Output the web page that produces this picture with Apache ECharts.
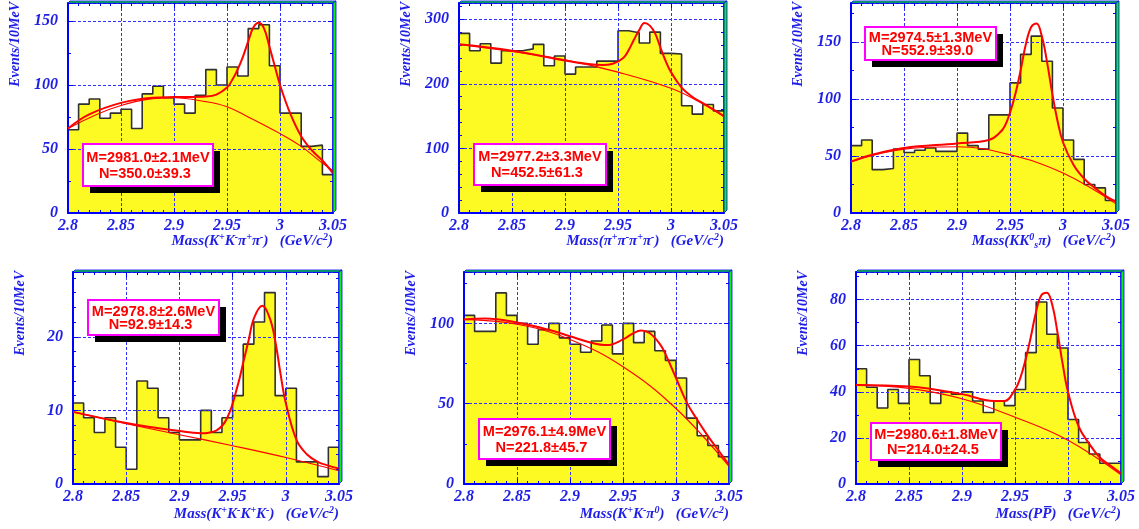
<!DOCTYPE html>
<html>
<head>
<meta charset="utf-8">
<script src="https://cdn.jsdelivr.net/npm/echarts@6/dist/echarts.min.js"></script>
<style>
  html, body { margin: 0; padding: 0; background: #fff; }
  #main { width: 1139px; height: 529px; }
</style>
</head>
<body>
<div id="main"></div>
<script>
// histogram bins: 10 MeV wide, starting at 2.80 GeV
const binStart = 2.8;
const binWidth = 0.01;

// events per bin
const hist1 = [65, 85, 89, 74, 78, 81, 66, 93, 99, 90, 85, 78, 92, 112, 100, 114, 107, 144, 147, 115, 78, 78, 52, 53, 30];
const hist2 = [278, 251, 262, 232, 251, 251, 254, 261, 228, 243, 215, 226, 226, 235, 235, 282, 279, 263, 280, 247, 246, 166, 153, 168, 158];
const hist3 = [59, 64, 38, 39, 56, 53, 55, 57, 54, 54, 70, 59, 56, 86, 86, 114, 139, 155, 133, 92, 64, 47, 25, 22, 11];
const hist4 = [11, 9, 7, 9, 5, 2, 14, 13, 9, 7, 6, 6, 10, 7, 9, 12, 19, 22, 26, 12, 13, 3, 3, 1, 5];
const hist5 = [105, 95, 95, 119, 105, 100, 87, 96, 100, 91, 87, 82, 89, 99, 81, 100, 88, 95, 83, 77, 66, 41, 30, 24, 17];
const hist6 = [50, 42, 33, 41, 35, 54, 47, 35, 40, 39, 40, 36, 31, 36, 34, 41, 57, 79, 65, 59, 28, 18, 13, 9, 9];

// fit curves (signal + background), [mass, events]
const fit1 = [[2.80, 66], [2.82, 77], [2.85, 86], [2.88, 90], [2.90, 90.5], [2.93, 91], [2.94, 92.5], [2.95, 98], [2.955, 104], [2.96, 112], [2.965, 122], [2.97, 134], [2.975, 145], [2.98, 148.5], [2.985, 144], [2.99, 130], [2.995, 115], [3.00, 100], [3.01, 77], [3.02, 60], [3.03, 49], [3.04, 41], [3.05, 31]];
const bkg1 = [[2.80, 66], [2.85, 84], [2.90, 90], [2.93, 87], [2.95, 83], [2.97, 75], [3.00, 62], [3.02, 52], [3.04, 39], [3.05, 33]];
const fit2 = [[2.80, 261], [2.85, 251], [2.90, 236], [2.92, 231], [2.935, 229], [2.945, 231], [2.955, 240], [2.96, 252], [2.965, 268], [2.97, 283], [2.975, 294], [2.98, 290], [2.985, 278], [2.99, 256], [2.995, 235], [3.00, 218], [3.01, 194], [3.02, 180], [3.03, 170], [3.04, 160], [3.05, 150]];
const bkg2 = [[2.80, 261], [2.85, 250], [2.90, 237], [2.95, 218], [3.00, 193], [3.03, 169], [3.05, 149]];
const fit3 = [[2.80, 45], [2.82, 51], [2.85, 57], [2.90, 61], [2.93, 64], [2.94, 70], [2.945, 76], [2.95, 88], [2.955, 104], [2.96, 125], [2.965, 148], [2.97, 163], [2.975, 166], [2.98, 155], [2.985, 132], [2.99, 104], [2.995, 80], [3.00, 62], [3.01, 42], [3.02, 30], [3.03, 22], [3.04, 15], [3.05, 10]];
const bkg3 = [[2.80, 45], [2.85, 56], [2.90, 58], [2.95, 51], [3.00, 35], [3.05, 8]];
const fit4 = [[2.80, 9.8], [2.85, 8.3], [2.90, 7.2], [2.92, 6.9], [2.935, 7.3], [2.945, 9], [2.955, 13.5], [2.96, 16.5], [2.965, 19.5], [2.97, 22.5], [2.978, 24.2], [2.985, 22.5], [2.99, 19.5], [2.995, 15], [3.00, 11], [3.01, 6], [3.02, 4], [3.03, 3], [3.04, 2.5], [3.05, 2.1]];
const bkg4 = [[2.80, 9.8], [2.85, 8.2], [2.90, 6.7], [2.95, 5.2], [3.00, 3.6], [3.05, 1.8]];
const fit5 = [[2.80, 102.5], [2.82, 103], [2.85, 100.5], [2.88, 96], [2.90, 92], [2.92, 88], [2.935, 86.5], [2.95, 90], [2.96, 94], [2.967, 95.5], [2.975, 94], [2.985, 87], [2.99, 81], [3.00, 66], [3.01, 51], [3.02, 40], [3.03, 30], [3.04, 21], [3.05, 12]];
const bkg5 = [[2.80, 102.5], [2.85, 99.5], [2.90, 90], [2.95, 73], [3.00, 47], [3.05, 11]];
const fit6 = [[2.80, 43], [2.85, 42.3], [2.90, 39], [2.93, 36], [2.94, 36], [2.95, 41], [2.955, 46], [2.96, 54], [2.965, 64], [2.97, 75], [2.975, 82], [2.98, 83], [2.985, 78], [2.99, 66], [2.995, 52], [3.00, 40], [3.01, 25], [3.02, 17.5], [3.03, 11.5], [3.04, 8], [3.05, 4.6]];
const bkg6 = [[2.80, 43], [2.85, 41.5], [2.90, 37], [2.95, 29], [3.00, 19], [3.05, 4]];

// fit results
const massText = ['M=2981.0\u00b12.1MeV', 'M=2977.2\u00b13.3MeV', 'M=2974.5\u00b11.3MeV', 'M=2978.8\u00b12.6MeV', 'M=2976.1\u00b14.9MeV', 'M=2980.6\u00b11.8MeV'];
const numText = ['N=350.0\u00b139.3', 'N=452.5\u00b161.3', 'N=552.9\u00b139.0', 'N=92.9\u00b114.3', 'N=221.8\u00b145.7', 'N=214.0\u00b124.5'];

// y axis ranges
const yMax = [164, 325, 184, 28.8, 132, 92];
const yStep = [50, 100, 50, 10, 50, 20];
const yMinor = [2, 5, 2, 5, 2, 2];

// axis titles (rich text)
const xTitles = [
  '{m|Mass(K}{s|+}{m|K}{s|-}{m|\u03c0}{s|+}{m|\u03c0}{s|-}{m|)   (GeV/c}{s|2}{m|)}',
  '{m|Mass(\u03c0}{s|+}{m|\u03c0}{s|-}{m|\u03c0}{s|+}{m|\u03c0}{s|-}{m|)   (GeV/c}{s|2}{m|)}',
  '{m|Mass(KK}{s|0}{b|s}{m|\u03c0)   (GeV/c}{s|2}{m|)}',
  '{m|Mass(K}{s|+}{m|K}{s|-}{m|K}{s|+}{m|K}{s|-}{m|)   (GeV/c}{s|2}{m|)}',
  '{m|Mass(K}{s|+}{m|K}{s|-}{m|\u03c0}{s|0}{m|)   (GeV/c}{s|2}{m|)}',
  '{m|Mass(PP\u0305)   (GeV/c}{s|2}{m|)}'
];

const hists = [hist1, hist2, hist3, hist4, hist5, hist6];
const fits = [fit1, fit2, fit3, fit4, fit5, fit6];
const bkgs = [bkg1, bkg2, bkg3, bkg4, bkg5, bkg6];

// layout (pixels)
const frames = [
  { left: 68, top: 3, width: 265, height: 210 },
  { left: 459, top: 3, width: 265, height: 210 },
  { left: 851, top: 3, width: 265, height: 210 },
  { left: 73, top: 272, width: 266, height: 212 },
  { left: 464, top: 272, width: 265, height: 212 },
  { left: 856, top: 272, width: 265, height: 212 }
];
// fit result boxes: offset from frame corner, size
const boxes = [
  { dx: 15, dy: 141, w: 130, h: 42 },
  { dx: 15, dy: 141, w: 132, h: 41 },
  { dx: 14, dy: 24, w: 131, h: 33 },
  { dx: 15, dy: 28, w: 131, h: 35 },
  { dx: 15, dy: 147, w: 131, h: 40 },
  { dx: 15, dy: 151, w: 130, h: 37 }
];

const BLUE = '#1e1ee6';
const AXIS_BLUE = '#0000ff';
const GRID_BLUE = '#3030ff';
const GREEN = '#11ee11';
const FILL = '#fcfa22';
const labelFont = { color: BLUE, fontFamily: 'Liberation Serif', fontStyle: 'italic', fontWeight: 'bold', fontSize: 16 };

function histPoints(h) {
  const pts = h.map((v, i) => [binStart + i * binWidth, v]);
  pts.push([binStart + h.length * binWidth, h[h.length - 1]]);
  return pts;
}

const grid = [], xAxis = [], yAxis = [], series = [], graphic = [];

frames.forEach((f, i) => {
  grid.push({ left: f.left, top: f.top, width: f.width, height: f.height, containLabel: false, outerBoundsMode: 'none', show: false });
});

// bottom + top x axes
for (let k = 0; k < 2; k++) {
  frames.forEach((f, i) => {
    xAxis.push({
      type: 'value', gridIndex: i, min: 2.8, max: 3.05, interval: 0.05,
      position: k === 0 ? 'bottom' : 'top', z: 3,
      axisLine: { show: true, onZero: false, lineStyle: { color: AXIS_BLUE, width: k === 0 ? 2 : 1.5 } },
      axisTick: { show: true, inside: true, length: 5, lineStyle: { color: AXIS_BLUE, width: 1 } },
      minorTick: { show: true, splitNumber: 5, length: 3, lineStyle: { color: AXIS_BLUE, width: 1 } },
      splitLine: { show: k === 0, lineStyle: { color: GRID_BLUE, width: 1, type: [3, 2] } },
      axisLabel: Object.assign({ show: k === 0, margin: 5, hideOverlap: false }, labelFont)
    });
  });
}
// left + right y axes
for (let k = 0; k < 2; k++) {
  frames.forEach((f, i) => {
    yAxis.push({
      type: 'value', gridIndex: i, min: 0, max: yMax[i], interval: yStep[i],
      position: k === 0 ? 'left' : 'right', z: 3,
      axisLine: { show: true, onZero: false, lineStyle: { color: AXIS_BLUE, width: k === 0 ? 2 : 1.5 } },
      axisTick: { show: true, inside: true, length: 5, lineStyle: { color: AXIS_BLUE, width: 1 } },
      minorTick: { show: true, splitNumber: yMinor[i], length: 3, lineStyle: { color: AXIS_BLUE, width: 1 } },
      splitLine: { show: k === 0, lineStyle: { color: GRID_BLUE, width: 1, type: [3, 2] } },
      axisLabel: Object.assign({ show: k === 0, margin: 10, showMaxLabel: false, hideOverlap: false }, labelFont)
    });
  });
}

frames.forEach((f, i) => {
  series.push({
    type: 'line', xAxisIndex: i, yAxisIndex: i, step: 'end', symbol: 'none', z: 2,
    data: histPoints(hists[i]),
    lineStyle: { color: '#303030', width: 1.6 },
    areaStyle: { color: FILL, opacity: 1 },
    silent: true, animation: false
  });
  series.push({
    type: 'line', xAxisIndex: i, yAxisIndex: i, symbol: 'none', smooth: 0.4, z: 5,
    data: bkgs[i], lineStyle: { color: '#ff0000', width: 1.1 }, silent: true, animation: false
  });
  series.push({
    type: 'line', xAxisIndex: i, yAxisIndex: i, symbol: 'none', smooth: 0.4, z: 6,
    data: fits[i], lineStyle: { color: '#ff0000', width: 2 }, silent: true, animation: false
  });

  const R = f.left + f.width, B = f.top + f.height;
  // 3d frame: green strips on top and right
  graphic.push({
    type: 'polygon', z: 8, silent: true,
    shape: { points: [[f.left, f.top], [f.left + 2, f.top - 2], [R + 3, f.top - 2], [R, f.top]] },
    style: { fill: GREEN, stroke: AXIS_BLUE, lineWidth: 0.8 }
  });
  graphic.push({
    type: 'polygon', z: 8, silent: true,
    shape: { points: [[R, f.top], [R + 3, f.top - 2], [R + 3, B - 3], [R, B]] },
    style: { fill: GREEN, stroke: AXIS_BLUE, lineWidth: 0.8 }
  });
  // y title
  graphic.push({
    type: 'text', z: 8, silent: true, x: f.left - 53, y: f.top - 1, rotation: Math.PI / 2,
    style: { text: 'Events/10MeV', font: 'italic bold 14px "Liberation Serif"', fill: BLUE, align: 'right', textAlign: 'right', verticalAlign: 'middle', textVerticalAlign: 'middle' }
  });
  // x title
  graphic.push({
    type: 'text', z: 8, silent: true, x: R, y: B + (i < 3 ? 28 : 30),
    style: {
      text: xTitles[i], align: 'right', textAlign: 'right', verticalAlign: 'middle', textVerticalAlign: 'middle', fill: BLUE,
      rich: {
        m: { fontSize: 15, fontFamily: 'Liberation Serif', fontStyle: 'italic', fontWeight: 'bold', fill: BLUE, lineHeight: 18 },
        s: { fontSize: 10, fontFamily: 'Liberation Serif', fontStyle: 'italic', fontWeight: 'bold', fill: BLUE, verticalAlign: 'top', lineHeight: 18 },
        b: { fontSize: 10, fontFamily: 'Liberation Serif', fontStyle: 'italic', fontWeight: 'bold', fill: BLUE, verticalAlign: 'bottom', lineHeight: 18 }
      }
    }
  });
  // fit result box with drop shadow
  const bx = boxes[i];
  const sp = bx.h * 0.39;
  const txt = { font: 'bold 14px "Liberation Sans"', fill: '#ff0000', align: 'center', textAlign: 'center', verticalAlign: 'middle', textVerticalAlign: 'middle' };
  const bx0 = f.left + bx.dx, by0 = f.top + bx.dy;
  graphic.push(
    { type: 'rect', z: 10, silent: true, shape: { x: bx0 + 7, y: by0 + 7, width: bx.w, height: bx.h }, style: { fill: '#000' } },
    { type: 'rect', z: 11, silent: true, shape: { x: bx0, y: by0, width: bx.w, height: bx.h }, style: { fill: '#fff', stroke: '#ff00ff', lineWidth: 2 } },
    { type: 'text', z: 12, silent: true, x: bx0 + bx.w / 2, y: by0 + bx.h / 2 - sp / 2 + 1, scaleX: 1.04, style: Object.assign({ text: massText[i] }, txt) },
    { type: 'text', z: 12, silent: true, x: bx0 + bx.w / 2 - 3, y: by0 + bx.h / 2 + sp / 2 + 1, scaleX: 1.04, style: Object.assign({ text: numText[i] }, txt) }
  );
});

const chart = echarts.init(document.getElementById('main'), null, { renderer: 'canvas' });
chart.setOption({
  backgroundColor: '#ffffff',
  animation: false,
  grid, xAxis, yAxis, series, graphic
});
</script>
</body>
</html>
